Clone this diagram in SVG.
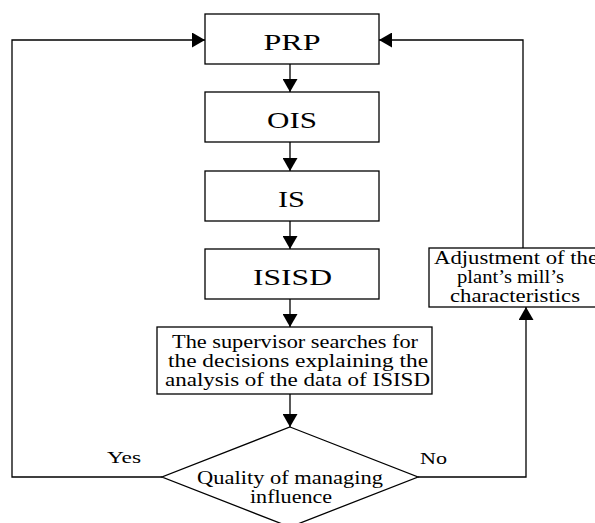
<svg xmlns="http://www.w3.org/2000/svg" width="595" height="523" viewBox="0 0 595 523">
<style>
.box{fill:#fff;stroke:#000;stroke-width:1.3}
.t{font-family:"Liberation Serif","Times New Roman",serif;fill:#000;text-anchor:middle}
.big{font-size:23px}
.sm{font-size:19px}
.lab{font-size:17px}
.ln{fill:none;stroke:#000;stroke-width:1.3}
</style>
<defs>
<marker id="ah" viewBox="0 0 13 15" refX="13" refY="7.5" markerWidth="13" markerHeight="15" markerUnits="userSpaceOnUse" orient="auto">
<path d="M0,0 L13,7.5 L0,15 z" fill="#000"/>
</marker>
</defs>
<g id="connectors">
<path class="ln" d="M290,64 V92" marker-end="url(#ah)"/>
<path class="ln" d="M290,142 V171" marker-end="url(#ah)"/>
<path class="ln" d="M290,221 V249" marker-end="url(#ah)"/>
<path class="ln" d="M290,299 V327" marker-end="url(#ah)"/>
<path class="ln" d="M290,394 V427" marker-end="url(#ah)"/>
<path class="ln" d="M162,477 H12 V40 H205" marker-end="url(#ah)"/>
<path class="ln" d="M418,477 H526 V307" marker-end="url(#ah)"/>
<path class="ln" d="M523,248 V40 H379" marker-end="url(#ah)"/>
<text class="t lab" x="124" y="463" textLength="34" lengthAdjust="spacingAndGlyphs">Yes</text>
<text class="t lab" x="433.5" y="464" textLength="27" lengthAdjust="spacingAndGlyphs">No</text>
</g>
<g id="prp">
<rect class="box" x="205" y="14" width="174" height="50"/>
<text class="t big" x="292" y="50" textLength="57" lengthAdjust="spacingAndGlyphs">PRP</text>
</g>
<g id="ois">
<rect class="box" x="205" y="92" width="174" height="50"/>
<text class="t big" x="292" y="128" textLength="50" lengthAdjust="spacingAndGlyphs">OIS</text>
</g>
<g id="is">
<rect class="box" x="205" y="171" width="174" height="50"/>
<text class="t big" x="291.5" y="207" textLength="27" lengthAdjust="spacingAndGlyphs">IS</text>
</g>
<g id="isisd">
<rect class="box" x="205" y="249" width="174" height="50"/>
<text class="t big" x="292.5" y="285" textLength="79" lengthAdjust="spacingAndGlyphs">ISISD</text>
</g>
<g id="supervisor">
<rect class="box" x="157" y="327" width="275" height="67"/>
<text class="t sm" x="295" y="348" textLength="246" lengthAdjust="spacingAndGlyphs">The supervisor searches for</text>
<text class="t sm" x="298" y="367" textLength="260" lengthAdjust="spacingAndGlyphs">the decisions explaining the</text>
<text class="t sm" x="297.5" y="386" textLength="265" lengthAdjust="spacingAndGlyphs">analysis of the data of ISISD</text>
</g>
<g id="quality">
<polygon class="box" points="290,427 418,477 290,527 162,477"/>
<text class="t sm" x="290" y="484" textLength="186" lengthAdjust="spacingAndGlyphs">Quality of managing</text>
<text class="t sm" x="291" y="503" textLength="82" lengthAdjust="spacingAndGlyphs">influence</text>
</g>
<g id="adjustment">
<rect class="box" x="429" y="248" width="168" height="59"/>
<text class="t sm" x="516" y="264" textLength="164" lengthAdjust="spacingAndGlyphs">Adjustment of the</text>
<text class="t sm" x="510.5" y="283" textLength="107" lengthAdjust="spacingAndGlyphs">plant’s mill’s</text>
<text class="t sm" x="515" y="302" textLength="130" lengthAdjust="spacingAndGlyphs">characteristics</text>
</g>
</svg>
